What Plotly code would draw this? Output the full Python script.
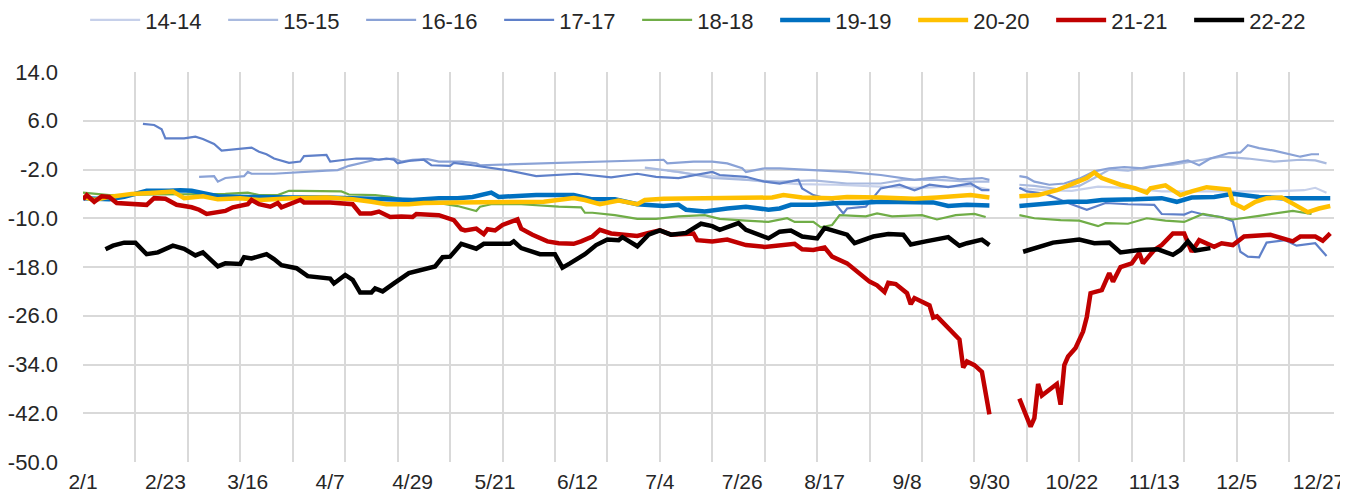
import pandas as pd
import plotly.graph_objects as go

YEAR = 2024  # axis runs over a leap-year calendar (2/23 + 22 days = 3/16)

# ---------------- axis labels ----------------
X_TICK_LABELS = ["2/1", "2/23", "3/16", "4/7", "4/29", "5/21", "6/12", "7/4",
                 "7/26", "8/17", "9/8", "9/30", "10/22", "11/13", "12/5", "12/27"]
X_START, X_END = "2/1", "12/31"
GRID_STEP_DAYS = 14
Y_TICKS = [14, 6, -2, -10, -18, -26, -34, -42, -50]

# ---------------- series (date "M/D", value); None = holiday gap ----------------
S14_DATES = ["7/6", "7/15", "7/22", "8/1", "8/10", "8/20", "9/1", "9/10", "9/20", "9/25", "9/30", "10/4",
             "10/8", "10/15", "10/22", "10/29", "11/5", "11/15", "12/1", "12/15", "12/23", "12/26", "12/29"]
S14_VALUES = [-2.2, -2.9, -3.3, -4.0, -4.4, -4.5, -4.8, -5.0, -4.8, -4.7, -5.3, None,
              -5.1, -5.4, -5.5, -4.8, -5.0, -5.6, -5.6, -5.6, -5.4, -5.0, -5.8]

S15_DATES = ["6/30", "7/9", "7/18", "7/27", "8/5", "8/14", "8/23", "9/1", "9/7", "9/16", "9/25", "9/30", "10/4",
             "10/8", "10/12", "10/18", "10/24", "10/28", "11/1", "11/6", "11/12", "11/18", "11/24", "12/1",
             "12/8", "12/15", "12/22", "12/26", "12/29"]
S15_VALUES = [-1.7, -2.4, -3.4, -3.7, -4.0, -3.8, -4.3, -4.3, -3.7, -3.7, -4.0, -4.0, None,
              -4.5, -4.7, -5.2, -4.7, -3.4, -2.0, -2.2, -1.5, -1.2, -0.6, 0.1,
              -0.2, -0.7, -0.4, -0.5, -1.0]

S16_DATES = ["3/3", "3/7", "3/8", "3/10", "3/15", "3/16", "3/17", "3/23", "4/6", "4/9", "4/12", "4/15",
             "4/19", "4/24", "4/26", "4/29", "5/3", "5/6", "5/12", "5/16", "5/17", "7/5", "7/6", "7/13",
             "7/18", "7/22", "7/26", "7/27", "8/1", "8/5", "8/14", "8/23", "9/1", "9/10", "9/14", "9/18",
             "9/22", "9/28", "9/30", "10/4",
             "10/8", "10/10", "10/12", "10/16", "10/20", "10/24", "10/28", "11/1", "11/5", "11/10", "11/14",
             "11/18", "11/22", "11/25", "11/28", "12/3", "12/6", "12/8", "12/11", "12/15", "12/18", "12/22",
             "12/25", "12/27"]
S16_VALUES = [-3.2, -3.1, -4.0, -3.4, -3.1, -2.4, -2.7, -2.7, -2.2, -2.1, -1.4, -1.0,
              -0.4, -0.2, -0.7, -0.4, -0.3, -0.7, -0.7, -1.0, -1.3, -0.4, -1.0, -0.7,
              -0.7, -1.0, -1.8, -2.4, -1.8, -1.8, -2.1, -2.4, -2.9, -3.7, -3.4, -3.2,
              -3.6, -3.4, -3.7, None,
              -3.1, -3.3, -4.0, -4.5, -4.3, -3.5, -2.3, -1.8, -1.6, -1.8, -1.4,
              -1.0, -0.5, -1.3, -0.2, 0.7, 0.8, 2.0, 1.5, 1.1, 0.7, 0.1,
              0.5, 0.5]

S17_DATES = ["2/17", "2/20", "2/22", "2/23", "2/28", "3/2", "3/4", "3/7", "3/9", "3/13", "3/17", "3/19",
             "3/21", "3/23", "3/27", "3/30", "3/31", "4/6", "4/7", "4/11", "4/14", "4/18", "4/20", "4/22",
             "4/24", "4/25", "4/28", "5/2", "5/4", "5/9", "5/10", "5/15", "5/20", "5/24", "6/1", "6/12",
             "6/21", "6/28", "7/3", "7/9", "7/18", "7/20", "7/27", "8/1", "8/5", "8/10", "8/11", "8/14",
             "8/19", "8/22", "8/23", "8/28", "9/1", "9/6", "9/10", "9/14", "9/19", "9/25", "9/28", "9/30",
             "10/4",
             "10/8", "10/10", "10/15", "10/21", "10/26", "10/31", "11/6", "11/13", "11/15", "11/21", "11/23",
             "11/27", "12/1", "12/4", "12/6", "12/8", "12/11", "12/13", "12/18", "12/21", "12/26", "12/29"]
S17_VALUES = [5.5, 5.3, 4.6, 3.1, 3.1, 3.4, 3.0, 2.2, 1.1, 1.3, 1.6, 0.9,
              0.5, -0.2, -0.9, -0.7, 0.2, 0.4, -0.7, -0.4, -0.2, -0.2, -0.4, -0.2,
              -0.4, -1.0, -0.6, -0.4, -1.3, -1.4, -0.9, -1.3, -1.8, -2.1, -3.1, -2.7,
              -3.3, -2.7, -3.2, -3.4, -2.4, -2.9, -3.2, -4.0, -4.3, -3.7, -5.1, -6.2,
              -7.0, -9.2, -8.4, -8.1, -5.1, -4.5, -5.4, -4.5, -4.9, -4.3, -5.4, -5.4,
              None,
              -5.0, -5.6, -6.0, -7.5, -8.6, -7.5, -7.7, -7.8, -9.3, -9.4, -8.9,
              -9.5, -9.8, -10.5, -15.5, -16.3, -16.4, -14.0, -13.6, -14.5, -14.1, -16.2]

S18_DATES = ["2/1", "2/8", "2/21", "3/1", "3/10", "3/16", "3/19", "3/24", "3/27", "3/30", "4/10", "4/12",
             "4/19", "4/23", "4/28", "5/2", "5/7", "5/11", "5/16", "5/17", "5/20", "5/28", "6/7", "6/13",
             "6/14", "6/16", "6/22", "6/28", "7/3", "7/9", "7/16", "7/20", "7/27", "8/2", "8/7", "8/9",
             "8/14", "8/16", "8/19", "8/21", "8/28", "8/31", "9/4", "9/12", "9/16", "9/21", "9/26", "9/29",
             "10/4",
             "10/8", "10/12", "10/19", "10/24", "10/29", "10/31", "11/6", "11/11", "11/16", "11/21", "11/26",
             "11/30", "12/4", "12/11", "12/16", "12/20", "12/25"]
S18_VALUES = [-5.8, -6.2, -6.1, -6.1, -6.0, -5.8, -6.2, -6.2, -5.5, -5.5, -5.6, -6.1,
              -6.2, -6.5, -7.0, -7.5, -7.6, -8.0, -8.8, -8.1, -7.7, -7.7, -8.1, -8.2,
              -9.1, -9.1, -9.5, -10.1, -10.1, -9.7, -9.5, -10.1, -10.4, -10.6, -10.0, -10.6,
              -10.6, -11.5, -11.1, -9.5, -9.7, -9.2, -9.7, -9.5, -10.2, -9.5, -9.3, -9.8,
              None,
              -9.5, -10.0, -10.3, -10.4, -11.3, -10.8, -10.9, -10.0, -10.4, -10.6, -9.3,
              -9.8, -10.2, -9.6, -9.2, -8.8, -9.3]

S19_DATES = ["2/1", "2/8", "2/12", "2/18", "2/24", "2/27", "3/1", "3/5", "3/8", "3/16", "3/21", "3/28",
             "4/6", "4/14", "4/23", "4/29", "5/6", "5/11", "5/15", "5/20", "5/22", "6/1", "6/11", "6/16",
             "6/22", "6/28", "7/5", "7/9", "7/11", "7/16", "7/22", "7/27", "8/2", "8/5", "8/8", "8/14",
             "8/21", "8/26", "9/1", "9/10", "9/15", "9/19", "9/24", "9/30", "10/4",
             "10/8", "10/13", "10/21", "10/26", "10/30", "11/8", "11/15", "11/19", "11/23", "11/29", "12/4",
             "12/11", "12/17", "12/24", "12/30"]
S19_VALUES = [-6.7, -6.9, -6.5, -5.5, -5.5, -5.4, -5.5, -6.0, -6.4, -6.5, -6.6, -6.6,
              -6.6, -6.7, -6.8, -7.0, -6.7, -6.7, -6.5, -5.8, -6.5, -6.2, -6.2, -6.9,
              -6.9, -7.7, -8.0, -7.8, -8.6, -8.9, -8.4, -8.1, -8.6, -8.4, -7.8, -7.8,
              -7.5, -7.5, -7.3, -7.3, -7.4, -8.0, -7.8, -7.9, None,
              -8.0, -7.7, -7.3, -7.3, -7.0, -6.9, -6.7, -7.3, -6.6, -6.5, -6.0,
              -6.5, -6.7, -6.7, -6.7]

S20_DATES = ["2/1", "2/4", "2/8", "2/14", "2/20", "2/25", "2/28", "3/4", "3/8", "3/14", "3/19", "3/28",
             "4/6", "4/13", "4/18", "4/22", "4/28", "5/2", "5/11", "5/20", "5/25", "6/3", "6/11", "6/14",
             "6/18", "6/23", "6/28", "6/30", "7/5", "7/18", "7/29", "8/3", "8/6", "8/11", "8/19", "8/23",
             "9/1", "9/10", "9/16", "9/25", "9/30", "10/4",
             "10/8", "10/13", "10/18", "10/22", "10/26", "10/28", "10/30", "11/4", "11/8", "11/11", "11/12",
             "11/16", "11/20", "11/23", "11/27", "12/3", "12/4", "12/7", "12/10", "12/13", "12/17", "12/20",
             "12/24", "12/27", "12/30"]
S20_VALUES = [-6.5, -7.0, -6.5, -6.0, -5.8, -5.6, -6.7, -6.4, -6.9, -6.7, -7.0, -6.7,
              -6.6, -6.9, -7.3, -7.7, -7.7, -7.5, -7.4, -7.4, -7.3, -7.3, -6.7, -7.0,
              -7.7, -7.1, -7.7, -7.0, -6.8, -6.7, -6.5, -6.6, -6.2, -6.6, -6.7, -6.5,
              -6.6, -6.8, -6.6, -6.2, -6.6, None,
              -6.4, -6.2, -5.4, -4.3, -3.4, -2.5, -3.4, -4.5, -5.1, -5.8, -5.1,
              -4.6, -6.2, -5.6, -4.9, -5.3, -7.5, -8.4, -7.3, -6.7, -6.6, -7.6,
              -9.0, -8.4, -8.0]

S21_DATES = ["2/1", "2/2", "2/4", "2/6", "2/8", "2/10", "2/18", "2/20", "2/23", "2/26", "3/1", "3/3",
             "3/5", "3/10", "3/12", "3/16", "3/17", "3/19", "3/22", "3/24", "3/25", "3/28", "3/30", "3/31",
             "4/7", "4/13", "4/15", "4/18", "4/20", "4/23", "4/26", "4/29", "4/30", "5/6", "5/10", "5/12",
             "5/13", "5/16", "5/18", "5/19", "5/21", "5/23", "5/25", "5/27", "5/28", "5/31", "6/4", "6/7",
             "6/11", "6/13", "6/16", "6/18", "6/21", "6/24", "6/28", "7/1", "7/4", "7/7", "7/13", "7/14",
             "7/18", "7/22", "7/27", "8/1", "8/6", "8/9", "8/11", "8/14", "8/17", "8/19", "8/23", "8/26",
             "8/29", "8/31", "9/2", "9/3", "9/5", "9/8", "9/9", "9/10", "9/11", "9/14", "9/15", "9/16",
             "9/22", "9/23", "9/24", "9/26", "9/28", "9/29", "9/30", "10/4",
             "10/8", "10/11", "10/12", "10/13", "10/14", "10/16", "10/18", "10/19", "10/20", "10/21", "10/23",
             "10/25", "10/26", "10/27", "10/30", "11/1", "11/2", "11/4", "11/7", "11/9", "11/10", "11/13",
             "11/15", "11/18", "11/21", "11/23", "11/25", "11/29", "12/1", "12/4", "12/7", "12/14", "12/20",
             "12/22", "12/26", "12/28", "12/30"]
S21_VALUES = [-6.9, -6.2, -7.3, -6.4, -6.5, -7.5, -7.8, -6.7, -6.8, -7.8, -8.2, -8.6,
              -9.3, -8.8, -8.2, -7.7, -7.0, -7.7, -8.1, -7.5, -8.2, -7.4, -7.0, -7.4,
              -7.4, -7.7, -9.2, -9.2, -8.9, -9.8, -9.7, -9.8, -9.3, -9.5, -10.3, -11.8,
              -12.0, -11.7, -12.6, -11.8, -12.0, -11.1, -10.7, -10.2, -11.7, -12.7, -13.8, -14.1,
              -14.2, -13.8, -13.0, -11.9, -12.5, -12.6, -12.9, -12.4, -12.0, -12.7, -12.5, -13.6,
              -13.8, -13.5, -14.4, -14.7, -14.4, -14.2, -15.1, -15.2, -14.8, -16.3, -17.4, -19.0,
              -20.4, -21.0, -22.1, -20.6, -20.8, -22.3, -24.1, -23.1, -23.4, -24.3, -26.3, -26.1,
              -29.9, -34.5, -33.5, -34.1, -35.2, -38.7, -42.2, None,
              -39.6, -44.2, -42.8, -37.2, -39.1, -38.2, -37.2, -40.6, -34.1, -32.7, -31.3,
              -28.6, -26.2, -22.3, -21.8, -19.0, -20.4, -18.0, -17.4, -15.7, -17.4, -15.2,
              -14.4, -12.5, -12.5, -15.5, -13.6, -14.7, -14.1, -14.4, -13.0, -12.7, -13.8,
              -13.0, -13.0, -13.7, -12.5]

S22_DATES = ["2/7", "2/9", "2/12", "2/15", "2/18", "2/21", "2/25", "2/28", "3/2", "3/4", "3/8", "3/10",
             "3/14", "3/15", "3/17", "3/21", "3/23", "3/25", "3/29", "4/1", "4/7", "4/8", "4/11", "4/13",
             "4/15", "4/18", "4/19", "4/21", "4/24", "4/26", "4/28", "5/5", "5/7", "5/9", "5/11", "5/12",
             "5/16", "5/18", "5/25", "5/26", "5/28", "6/2", "6/6", "6/8", "6/10", "6/14", "6/17", "6/20",
             "6/23", "6/24", "6/28", "7/1", "7/4", "7/7", "7/11", "7/15", "7/18", "7/20", "7/25", "7/27",
             "8/2", "8/5", "8/8", "8/11", "8/15", "8/17", "8/23", "8/25", "8/30", "9/3", "9/7", "9/9",
             "9/13", "9/15", "9/19", "9/22", "9/24", "9/28", "9/30", "10/4",
             "10/9", "10/13", "10/17", "10/24", "10/28", "11/1", "11/4", "11/9", "11/14", "11/18", "11/20",
             "11/22", "11/24", "11/28"]
S22_VALUES = [-15.1, -14.5, -14.0, -14.0, -15.9, -15.6, -14.5, -15.0, -16.1, -15.6, -17.9, -17.4,
              -17.5, -16.4, -16.6, -15.9, -16.7, -17.7, -18.2, -19.5, -19.9, -20.7, -19.3, -20.1,
              -22.2, -22.2, -21.5, -22.0, -20.7, -19.9, -19.0, -17.9, -16.4, -16.3, -14.7, -14.2,
              -15.0, -14.2, -14.2, -13.8, -14.9, -15.9, -15.9, -18.1, -17.4, -15.9, -14.4, -13.5,
              -13.6, -13.1, -14.6, -12.7, -12.0, -12.7, -12.4, -10.9, -11.3, -11.9, -10.8, -11.9,
              -13.3, -12.2, -12.0, -13.0, -13.3, -11.6, -12.7, -14.1, -13.0, -12.6, -12.7, -14.3,
              -13.8, -13.6, -13.1, -14.5, -14.1, -13.5, -14.4, None,
              -15.5, -14.7, -14.0, -13.5, -14.1, -14.0, -15.6, -15.2, -15.1, -16.0, -15.2,
              -13.8, -15.3, -14.9]

SERIES_NAMES = ["14-14", "15-15", "16-16", "17-17", "18-18", "19-19", "20-20", "21-21", "22-22"]
SERIES_DATA = [(S14_DATES, S14_VALUES), (S15_DATES, S15_VALUES), (S16_DATES, S16_VALUES),
               (S17_DATES, S17_VALUES), (S18_DATES, S18_VALUES), (S19_DATES, S19_VALUES),
               (S20_DATES, S20_VALUES), (S21_DATES, S21_VALUES), (S22_DATES, S22_VALUES)]

# ---------------- styles ----------------
COLORS = ["#c6d0ea", "#a9badf", "#8aa2d6", "#5f80c9", "#70ad47", "#0070c0", "#ffc000", "#c00000", "#000000"]
WIDTHS = [2.2, 2.2, 2.2, 2.2, 2.2, 4.5, 4.5, 4.5, 4.5]
GRID_COLOR = "#d9d9d9"
TEXT_COLOR = "#262626"
FONT = "Liberation Sans"
FONT_SIZE = 22
X_FONT_SIZE = 21


def to_dates(md_list):
    return pd.to_datetime([f"{YEAR}/{d}" for d in md_list], format="%Y/%m/%d")


fig = go.Figure()
for name, (dates, vals), color, width in zip(SERIES_NAMES, SERIES_DATA, COLORS, WIDTHS):
    fig.add_trace(go.Scatter(
        x=to_dates(dates), y=vals, name=name, mode="lines",
        line=dict(color=color, width=width), connectgaps=False,
    ))

# empty helper trace so the 14-day gridline axis is drawn
fig.add_trace(go.Scatter(x=[], y=[], xaxis="x2", showlegend=False, hoverinfo="skip"))

x_range = list(to_dates([X_START, X_END]))
tick_dates = to_dates(X_TICK_LABELS)

# the page body has an 8px default margin, so the figure is 8px smaller than the window
fig.update_layout(
    width=1340, height=486,
    margin=dict(l=75, r=14, t=64, b=32, autoexpand=False),
    paper_bgcolor="white", plot_bgcolor="white",
    font=dict(family=FONT, size=FONT_SIZE, color=TEXT_COLOR),
    legend=dict(orientation="h", xref="container", yref="container",
                x=0.521, y=0.975, xanchor="center", yanchor="middle",
                font=dict(family=FONT, size=FONT_SIZE, color=TEXT_COLOR),
                entrywidthmode="pixels", entrywidth=73, itemwidth=50,
                bgcolor="rgba(0,0,0,0)"),
    xaxis=dict(type="date", range=x_range, tickvals=tick_dates, ticktext=X_TICK_LABELS,
               showgrid=False, zeroline=False, showline=False, ticks="",
               ticklabelstandoff=5, tickfont=dict(size=X_FONT_SIZE)),
    xaxis2=dict(type="date", range=x_range, overlaying="x", anchor="y", side="bottom",
                tick0=x_range[0], dtick=GRID_STEP_DAYS * 86400000,
                showgrid=True, gridcolor=GRID_COLOR, gridwidth=1.5,
                showticklabels=False, zeroline=False, showline=False, ticks=""),
    yaxis=dict(range=[-50, 14], tickvals=Y_TICKS, ticktext=[f"{v:.1f}" for v in Y_TICKS],
               showgrid=True, gridcolor=GRID_COLOR, gridwidth=1.5, zeroline=False,
               showline=False, ticks="", ticklabelstandoff=24, tickfont=dict(size=FONT_SIZE)),
)

fig.write_html("out.html")
